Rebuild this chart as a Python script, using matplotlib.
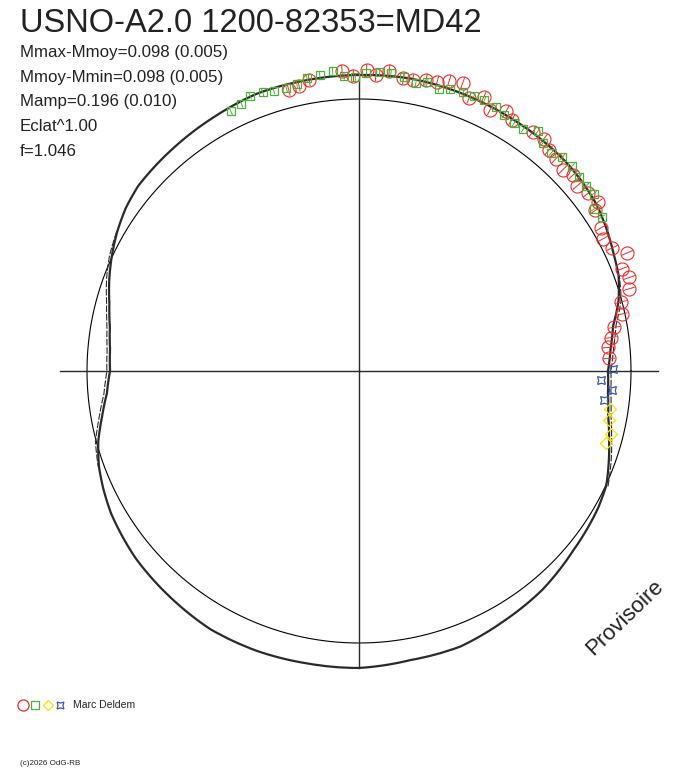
import numpy as np
import matplotlib
matplotlib.use("Agg")
import matplotlib.pyplot as plt

plt.rcParams.update({
    "font.family": ["Liberation Sans", "DejaVu Sans"],
})

# phase (0..1, counter-clockwise from the right) and magnitude offset from the
# mean level (positive = brighter, drawn outward)
curve_phase = [0.000, 0.014, 0.028, 0.042, 0.056, 0.069, 0.083, 0.097, 0.111, 0.125,
               0.139, 0.167, 0.194, 0.222, 0.250, 0.278, 0.306, 0.333, 0.361, 0.389,
               0.403, 0.417, 0.431, 0.444, 0.458, 0.472, 0.486, 0.500, 0.514, 0.528,
               0.542, 0.556, 0.569, 0.583, 0.611, 0.639, 0.667, 0.694, 0.722, 0.750,
               0.778, 0.806, 0.833, 0.861, 0.889, 0.903, 0.917, 0.931, 0.944, 0.958,
               0.972, 0.986, 1.000]
curve_mag = [-0.096, -0.081, -0.058, -0.013, 0.019, 0.035, 0.056, 0.075, 0.085, 0.092,
             0.094, 0.096, 0.100, 0.104, 0.100, 0.098, 0.098, 0.085, 0.075, 0.067,
             0.052, 0.029, 0.002, -0.025, -0.056, -0.079, -0.092, -0.096, -0.079, -0.046,
             -0.008, 0.021, 0.040, 0.058, 0.081, 0.094, 0.108, 0.108, 0.104, 0.104,
             0.090, 0.090, 0.071, 0.056, 0.031, 0.023, 0.015, 0.002, -0.025, -0.054,
             -0.079, -0.092, -0.096]

# second (outer) branch visible around both minima
branch_left_phase = [0.417, 0.431, 0.444, 0.458, 0.472, 0.486, 0.500, 0.514, 0.528, 0.542, 0.556]
branch_left_mag = [0.031, 0.012, -0.013, -0.044, -0.067, -0.080, -0.083, -0.067, -0.034, 0.004, 0.024]
branch_right_phase = [0.931, 0.944, 0.958, 0.972, 0.986, 1.000, 1.014, 1.028, 1.042, 1.056]
branch_right_mag = [0.010, -0.015, -0.043, -0.067, -0.080, -0.084, -0.069, -0.046, -0.002, 0.022]

red_phase = [0.289, 0.283, 0.277, 0.259, 0.253, 0.246, 0.241, 0.234, 0.226, 0.221,
             0.214, 0.208, 0.202, 0.195, 0.189, 0.182, 0.176, 0.168, 0.163, 0.150,
             0.143, 0.137, 0.131, 0.124, 0.118, 0.112, 0.105, 0.098, 0.095, 0.085,
             0.079, 0.072, 0.066, 0.059, 0.053, 0.047, 0.041, 0.034, 0.027, 0.021,
             0.015, 0.008]
red_mag = [0.074, 0.082, 0.096, 0.120, 0.097, 0.121, 0.102, 0.125, 0.100, 0.099,
           0.112, 0.115, 0.133, 0.142, 0.093, 0.120, 0.085, 0.110, 0.092, 0.098,
           0.103, 0.079, 0.072, 0.059, 0.077, 0.060, 0.075, 0.085, 0.057, 0.040,
           0.023, 0.040, 0.089, 0.044, 0.059, 0.043, -0.005, -0.013, -0.054, -0.075,
           -0.090, -0.089]

green_phase = [0.323, 0.316, 0.310, 0.303, 0.297, 0.290, 0.284, 0.278, 0.271, 0.264,
               0.258, 0.252, 0.246, 0.239, 0.233, 0.226, 0.219, 0.213, 0.206, 0.200,
               0.193, 0.187, 0.181, 0.174, 0.168, 0.161, 0.155, 0.148, 0.142, 0.135,
               0.129, 0.122, 0.115, 0.109, 0.103, 0.096, 0.090]
green_mag = [0.073, 0.082, 0.100, 0.095, 0.088, 0.083, 0.089, 0.107, 0.111, 0.123,
             0.098, 0.092, 0.108, 0.114, 0.115, 0.105, 0.090, 0.103, 0.090, 0.100,
             0.108, 0.108, 0.111, 0.107, 0.093, 0.084, 0.085, 0.112, 0.085, 0.079,
             0.097, 0.098, 0.089, 0.088, 0.092, 0.057, 0.064]

blue_phase = [0.001, 0.994, 0.988, 0.981]
blue_mag = [-0.074, -0.125, -0.075, -0.104]

yellow_phase = [0.976, 0.969, 0.961, 0.955]
yellow_mag = [-0.075, -0.070, -0.052, -0.061]

red_err = 0.025
green_err = 0.016

title = "USNO-A2.0 1200-82353=MD42"
stats = ["Mmax-Mmoy=0.098 (0.005)",
         "Mmoy-Mmin=0.098 (0.005)",
         "Mamp=0.196 (0.010)",
         "Eclat^1.00",
         "f=1.046"]
observer = "Marc Deldem"
credit = "(c)2026 OdG-RB"

RED = "#f02a2a"
GREEN = "#4caf3c"
YELLOW = "#f5e400"
BLUE = "#3a58a8"
INK = "#2a2a2a"

W, H = 688, 768
R_CENTER = -1.1333     # value at the pole
R_EDGE = 0.15


def th(phase):
    return 2 * np.pi * np.asarray(phase)


def curved(lines, steps=40):
    # let the polar transform follow the arc between successive points
    for ln in lines:
        ln.get_path()._interpolation_steps = steps
    return lines


fig = plt.figure(figsize=(W / 100, H / 100), dpi=100)

# page overlay in pixel units (legend symbols)
page = fig.add_axes([0, 0, 1, 1])
page.set_xlim(0, W)
page.set_ylim(H, 0)
page.set_axis_off()

ax = fig.add_axes([(359 - 308) / W, (H - 371 - 308) / H, 616 / W, 616 / H], projection="polar")
ax.set_rlim(R_CENTER, R_EDGE)
ax.set_axis_off()

# mean circle and cross hair
ring = np.linspace(0, 2 * np.pi, 721)
ax.plot(ring, np.zeros_like(ring), color="black", lw=0.8)
ax.plot([0, 0], [R_CENTER, 0.111], color=INK, lw=1.0)
ax.plot([np.pi, np.pi], [R_CENTER, 0.112], color=INK, lw=1.0)
ax.plot([np.pi / 2, np.pi / 2], [R_CENTER, 0.083], color=INK, lw=1.0)
ax.plot([1.5 * np.pi, 1.5 * np.pi], [R_CENTER, 0.104], color=INK, lw=1.0)

# fitted light curve
curved(ax.plot(th(curve_phase), curve_mag, color=INK, lw=1.6, solid_capstyle="round"))
curved(ax.plot(th(branch_left_phase), branch_left_mag, color=INK, lw=0.8, ls=(0, (6, 1.5))))
curved(ax.plot(th(branch_right_phase), branch_right_mag, color=INK, lw=0.8, ls=(0, (6, 1.5))))

# observations
r_m = np.asarray(red_mag)
ax.vlines(th(red_phase), r_m - red_err, r_m + red_err, color=RED, lw=0.7, clip_on=False)
ax.plot(th(red_phase), red_mag, ls="none", marker="o", ms=9.4, mfc="none", mec=RED, mew=0.8, clip_on=False)

g_m = np.asarray(green_mag)
ax.vlines(th(green_phase), g_m - green_err, g_m + green_err, color=GREEN, lw=0.7, clip_on=False)
ax.plot(th(green_phase), green_mag, ls="none", marker="s", ms=6.0, mfc="none", mec=GREEN, mew=0.9, clip_on=False)

ax.plot(th(yellow_phase), yellow_mag, ls="none", marker="D", ms=6.5, mfc="none", mec=YELLOW, mew=0.9, clip_on=False)
ax.plot(th(blue_phase), blue_mag, ls="none", marker=(4, 1, 45), ms=8, mfc="none", mec=BLUE, mew=0.9, clip_on=False)

# texts
fig.text(20 / W, 1 - 32 / H, title, fontsize=23.5, color="#222222", va="baseline")
for i, line in enumerate(stats):
    fig.text(20 / W, 1 - (57 + 24.7 * i) / H, line, fontsize=12.2, color="#222222", va="baseline")

fig.text(625 / W, 1 - 618 / H, "Provisoire", fontsize=16, color="#222222",
         rotation=44, ha="center", va="center", rotation_mode="anchor")

page.plot([22.5], [704.5], marker="o", ms=8, mfc="none", mec=RED, mew=0.9)
page.plot([35], [704.5], marker="s", ms=5.2, mfc="none", mec=GREEN, mew=0.9)
page.plot([47.5], [704.5], marker="D", ms=5.2, mfc="none", mec=YELLOW, mew=0.9)
page.plot([60], [704.5], marker=(4, 1, 45), ms=7, mfc="none", mec=BLUE, mew=0.9)
fig.text(73 / W, 1 - 708.5 / H, observer, fontsize=7.5, color="#222222", va="baseline")
fig.text(20 / W, 1 - 765 / H, credit, fontsize=5.8, color="#222222", va="baseline")

fig.savefig("out.png", dpi=100)
